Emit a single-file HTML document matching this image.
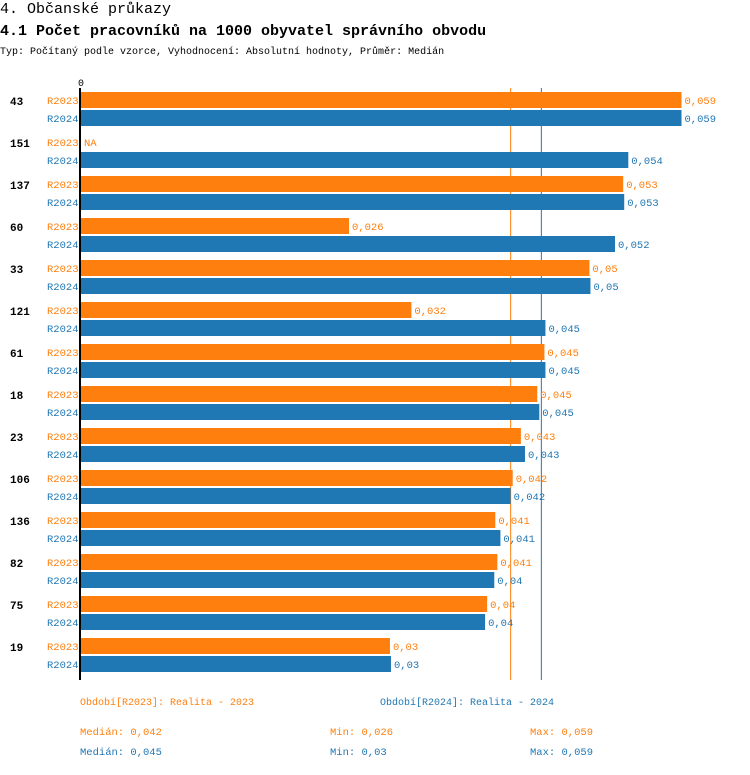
<!DOCTYPE html>
<html><head><meta charset="utf-8"><style>
body{margin:0;background:#fff;width:750px;height:770px;overflow:hidden;font-family:"Liberation Mono",monospace;}
svg text{font-family:"Liberation Mono",monospace;}
</style></head><body>
<svg id="c" width="750" height="770">
<text x="0" y="13" font-size="15">4. Občanské průkazy</text>
<text x="0" y="35" font-size="15" font-weight="bold">4.1 Počet pracovníků na 1000 obyvatel správního obvodu</text>
<text x="0" y="54" font-size="10">Typ: Počítaný podle vzorce, Vyhodnocení: Absolutní hodnoty, Průměr: Medián</text>
<text x="78" y="86" font-size="10">0</text>
<g id="bars"></g>
<text x="80" y="705" font-size="10" fill="#ff7f0e">Období[R2023]: Realita - 2023</text>
<text x="380" y="705" font-size="10" fill="#1f77b4">Období[R2024]: Realita - 2024</text>
<text x="80" y="735" font-size="10.5" fill="#ff7f0e">Medián: 0,042</text>
<text x="330" y="735" font-size="10.5" fill="#ff7f0e">Min: 0,026</text>
<text x="530" y="735" font-size="10.5" fill="#ff7f0e">Max: 0,059</text>
<text x="80" y="755" font-size="10.5" fill="#1f77b4">Medián: 0,045</text>
<text x="330" y="755" font-size="10.5" fill="#1f77b4">Min: 0,03</text>
<text x="530" y="755" font-size="10.5" fill="#1f77b4">Max: 0,059</text>
</svg>
<script>
const categories=["43","151","137","60","33","121","61","18","23","106","136","82","75","19"];
const r2023=[0.0587,null,0.0530,0.0262,0.0497,0.0323,0.0453,0.0446,0.0430,0.0422,0.0405,0.0407,0.0397,0.0302];
const r2024=[0.0587,0.0535,0.0531,0.0522,0.0498,0.0454,0.0454,0.0448,0.0434,0.0420,0.0410,0.0404,0.0395,0.0303];
const labels2023=["0,059","NA","0,053","0,026","0,05","0,032","0,045","0,045","0,043","0,042","0,041","0,041","0,04","0,03"];
const labels2024=["0,059","0,054","0,053","0,052","0,05","0,045","0,045","0,045","0,043","0,042","0,041","0,04","0,04","0,03"];
const medians=[0.042,0.045];
const NS="http://www.w3.org/2000/svg";
const g=document.getElementById('bars');
const x0=81,scale=10230;
const xs=v=>x0+v*scale;
const ys=i=>92+i*42;
const O="#ff7f0e",B="#1f77b4";
function mk(t,a){const e=document.createElementNS(NS,t);for(const k in a)e.setAttribute(k,a[k]);g.appendChild(e);return e;}
[O,B].forEach((col,k)=>{
  const l=mk('line',{x1:xs(medians[k]),x2:xs(medians[k]),y1:88,y2:680,stroke:col,'stroke-width':1});
  
  
});
categories.forEach((c,i)=>{
  const y=ys(i);
  let t=mk('text',{x:10,y:y+13,'font-size':11,'font-weight':'bold'});t.textContent=c;
  
  
  t=mk('text',{x:47,y:y+12,'font-size':10.5,fill:O});t.textContent="R2023";
  
  
  t=mk('text',{x:47,y:y+30,'font-size':10.5,fill:B});t.textContent="R2024";
  
  
  const v1=r2023[i];
  if(v1!=null){
    const r=mk('rect',{x:x0,y:y,width:xs(v1)-x0,height:16,fill:O});
    
    
  }
  t=mk('text',{x:(v1!=null?xs(v1):x0)+3,y:y+12,'font-size':10.5,fill:O});t.textContent=labels2023[i];
  
  
  const v2=r2024[i];
  const r2=mk('rect',{x:x0,y:y+18,width:xs(v2)-x0,height:16,fill:B});
  
  
  t=mk('text',{x:xs(v2)+3,y:y+30,'font-size':10.5,fill:B});t.textContent=labels2024[i];
  
  
});
const ax=mk('line',{x1:80,x2:80,y1:88,y2:680,stroke:'#000','stroke-width':2});


</script>
</body></html>
